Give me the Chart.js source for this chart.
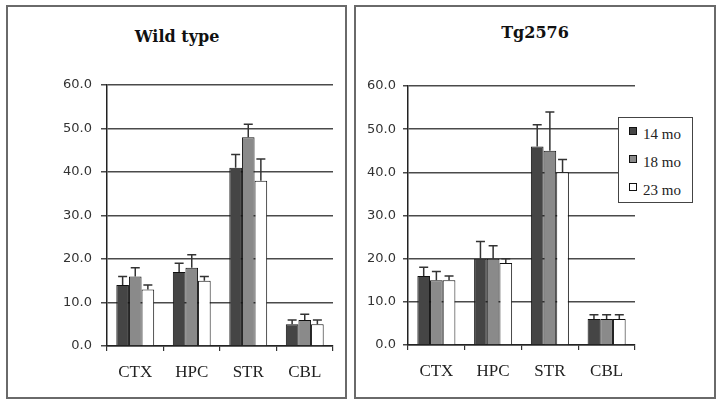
<!DOCTYPE html>
<html>
<head>
<meta charset="utf-8">
<script src="https://cdn.jsdelivr.net/npm/chart.js@4.4.1/dist/chart.umd.min.js"></script>
<style>
  html, body { margin: 0; padding: 0; background: #fff; }
  body { width: 720px; height: 402px; position: relative; overflow: hidden; }
  .panel { position: absolute; box-sizing: border-box; border: 2px solid #6a6a6a; background: #fff; }
  .title { position: absolute; text-align: center; font-family: "DejaVu Serif", serif; font-weight: bold; font-size: 16px; line-height: 20px; color: #111; }
  canvas { position: absolute; }
  #legend { position: absolute; left: 618px; top: 117px; width: 75px; height: 86px; box-sizing: border-box; border: 1px solid #444; background: #fff; }
  .row { position: absolute; left: 0; height: 18px; width: 70px; }
  .sw { position: absolute; left: 10px; top: 2px; width: 8px; height: 8px; box-sizing: border-box; border: 1px solid #111; }
  .lt { position: absolute; left: 24px; top: 0; font-family: "Liberation Serif", serif; font-size: 15px; line-height: 18px; color: #222; white-space: nowrap; }
</style>
</head>
<body>
<div class="panel" style="left:6px;top:5px;width:341px;height:394px;"></div>
<div class="panel" style="left:354px;top:5px;width:362px;height:394px;"></div>
<div class="title" id="t1" style="left:7px;top:27px;width:340px;"></div>
<div class="title" id="t2" style="left:355px;top:23px;width:360px;"></div>
<canvas id="c1" width="337" height="390" style="left:8px;top:7px;width:337px;height:390px;"></canvas>
<canvas id="c2" width="358" height="390" style="left:356px;top:7px;width:358px;height:390px;"></canvas>
<div id="legend"></div>
<script>
// ---- data ----
const regions = ['CTX', 'HPC', 'STR', 'CBL'];
const seriesNames = ['14 mo', '18 mo', '23 mo'];
const yTicks = [0, 10, 20, 30, 40, 50, 60];
const panelTitles = ['Wild type', 'Tg2576'];

// Wild type
const wt14 = [14, 17, 41, 5];
const wt18 = [16, 18, 48, 6];
const wt23 = [13, 15, 38, 5];
const wt14Err = [2, 2, 3, 1];
const wt18Err = [2, 3, 3, 1.3];
const wt23Err = [1, 1, 5, 1];

// Tg2576
const tg14 = [16, 20, 46, 6];
const tg18 = [15, 20, 45, 6];
const tg23 = [15, 19, 40, 6];
const tg14Err = [2, 4, 5, 1];
const tg18Err = [2, 3, 9, 1];
const tg23Err = [1, 1, 3, 1];

// ---- styles ----
const fills = ['#454545', '#8a8a8a', '#ffffff'];

document.getElementById('t1').textContent = panelTitles[0];
document.getElementById('t2').textContent = panelTitles[1];

// HTML legend
const leg = document.getElementById('legend');
seriesNames.forEach((n, i) => {
  const r = document.createElement('div');
  r.className = 'row';
  r.style.top = (7 + 28 * i) + 'px';
  const s = document.createElement('div');
  s.className = 'sw';
  s.style.background = fills[i];
  const t = document.createElement('div');
  t.className = 'lt';
  t.textContent = n;
  r.appendChild(s); r.appendChild(t);
  leg.appendChild(r);
});

const errorBars = {
  id: 'errorBars',
  afterDatasetsDraw(chart) {
    const ctx = chart.ctx;
    const yScale = chart.scales.y;
    ctx.save();
    ctx.strokeStyle = '#333';
    ctx.lineWidth = 1.5;
    chart.data.datasets.forEach((ds, di) => {
      const meta = chart.getDatasetMeta(di);
      meta.data.forEach((bar, i) => {
        const err = ds.errors[i];
        const top = yScale.getPixelForValue(ds.data[i] + err);
        const x = bar.x;
        ctx.beginPath();
        ctx.moveTo(x, bar.y);
        ctx.lineTo(x, top);
        ctx.moveTo(x - 4.5, top);
        ctx.lineTo(x + 4.5, top);
        ctx.stroke();
      });
    });
    ctx.restore();
  }
};

function makeChart(id, sets, errs, pad, yWidth, yTickLen, yPad) {
  return new Chart(document.getElementById(id), {
    type: 'bar',
    data: {
      labels: regions,
      datasets: sets.map((d, i) => ({
        label: seriesNames[i],
        data: d,
        errors: errs[i],
        backgroundColor: fills[i],
        borderColor: '#111',
        borderWidth: 1,
        categoryPercentage: 0.67,
        barPercentage: 1.0
      }))
    },
    options: {
      responsive: false,
      animation: false,
      devicePixelRatio: 1,
      layout: { padding: pad },
      plugins: { legend: { display: false }, title: { display: false }, tooltip: { enabled: false } },
      scales: {
        x: {
          afterFit(s) { s.height = 40; },
          grid: { offset: true, drawOnChartArea: false, drawTicks: true, tickLength: 5, color: '#333', lineWidth: 1.2 },
          border: { color: '#222', width: 1.5 },
          ticks: { font: { family: 'Liberation Serif', size: 17 }, color: '#222', padding: 11 }
        },
        y: {
          min: 0, max: 60,
          afterFit(s) { s.width = yWidth; },
          afterBuildTicks(s) { s.ticks = yTicks.map(v => ({ value: v })); },
          grid: { color: '#4a4a4a', lineWidth: 1.5, drawTicks: true, tickLength: yTickLen },
          border: { color: '#222', width: 1.5 },
          ticks: { font: { family: 'DejaVu Sans', size: 13 }, color: '#333', padding: yPad,
                   callback: v => Number(v).toFixed(1) }
        }
      }
    },
    plugins: [errorBars]
  });
}

makeChart('c1', [wt14, wt18, wt23], [wt14Err, wt18Err, wt23Err],
  { left: 49, right: 12, top: 78, bottom: 11 }, 50, 6, 9);
makeChart('c2', [tg14, tg18, tg23], [tg14Err, tg18Err, tg23Err],
  { left: 4, right: 79, top: 79, bottom: 12 }, 48, 5, 7);
</script>
</body>
</html>
